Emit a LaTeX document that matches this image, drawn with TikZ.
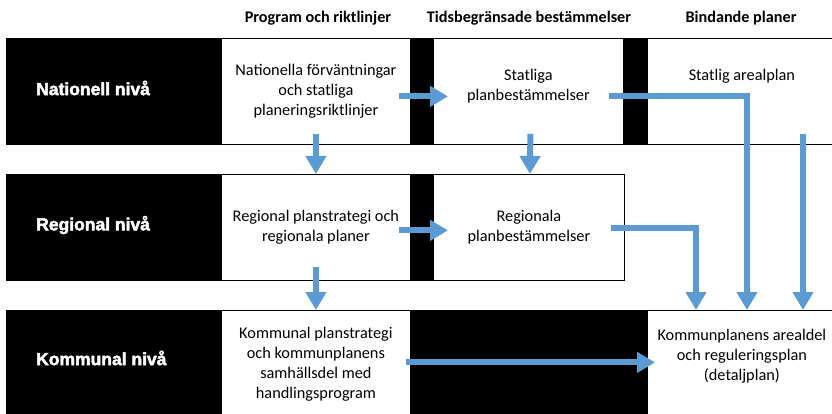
\documentclass[tikz,border=0pt]{standalone}
\usepackage{fontspec}
\setmainfont{Carlito}
\newfontfamily\levelfont[BoldFeatures={FakeBold=2.5}]{Liberation Sans}
\usetikzlibrary{arrows.meta}
\definecolor{planblue}{RGB}{91,155,213}
\begin{document}
\begin{tikzpicture}
[x=1pt,y=-1pt,
  banddecorate/.style={anchor=north west,shape=rectangle,inner sep=0pt,fill=black,draw=black,line width=0.8pt},%
  boxdecorate/.style={anchor=north west,shape=rectangle,inner sep=0pt,fill=white,draw=black,line width=0.8pt},%
  textdecorate/.style={align=center,inner sep=0pt,font=\fontsize{16.3}{20}\selectfont},%
  headdecorate/.style={inner sep=0pt,font=\bfseries\fontsize{16.2}{20}\selectfont},%
  leveldecorate/.style={anchor=west,inner sep=0pt,text=white,font=\levelfont\bfseries\fontsize{17.5}{20}\selectfont},%
  arrowdecorate/.style={-{Triangle[width=20pt,length=18pt]},line width=6pt,draw=planblue}]
\useasboundingbox (0,0) rectangle (832,414);
% column heads
\node (h1) at (318,18) [headdecorate] {Program och riktlinjer};
\node (h2) at (529,18) [headdecorate] {Tidsbegränsade bestämmelser};
\node (h3) at (741,18) [headdecorate] {Bindande planer};
% bands
\node (natband) at (6,38) [banddecorate,minimum width=830pt,minimum height=106pt] {};
\node (regband) at (6,174) [banddecorate,minimum width=618pt,minimum height=106pt] {};
\node (komband) at (6,310) [banddecorate,minimum width=830pt,minimum height=108pt] {};
\node (natlvl) at (36,88) [leveldecorate] {Nationell nivå};
\node (reglvl) at (36,225) [leveldecorate] {Regional nivå};
\node (komlvl) at (36,358) [leveldecorate] {Kommunal nivå};
% boxes
\node (nat) at (221,38) [boxdecorate,minimum width=189pt,minimum height=106pt] {};
\node [textdecorate] at (nat.center) {Nationella förväntningar\\och statliga\\planeringsriktlinjer};
\node (sta) at (433,38) [boxdecorate,minimum width=190pt,minimum height=106pt] {};
\node [textdecorate] at ([yshift=5pt]sta.center) {Statliga\\planbestämmelser};
\node (are) at (647,38) [boxdecorate,minimum width=189pt,minimum height=106pt] {};
\node [textdecorate] at ([yshift=15pt]are.center) {Statlig arealplan};
\node (reg) at (221,174) [boxdecorate,minimum width=189pt,minimum height=106pt] {};
\node [textdecorate] at (reg.center) {Regional planstrategi och\\regionala planer};
\node (rpb) at (433,174) [boxdecorate,minimum width=191pt,minimum height=106pt] {};
\node [textdecorate] at (rpb.center) {Regionala\\planbestämmelser};
\node (kom) at (221,310) [boxdecorate,minimum width=189pt,minimum height=108pt] {};
\node [textdecorate] at (kom.center) {Kommunal planstrategi\\och kommunplanens\\samhällsdel med\\handlingsprogram};
\node (kpa) at (647,310) [boxdecorate,minimum width=189pt,minimum height=108pt] {};
\node [textdecorate] at ([yshift=8pt]kpa.center) {Kommunplanens arealdel\\och reguleringsplan\\(detaljplan)};
% arrows
\path
([xshift=-12pt,yshift=-5pt]nat.east) edge[arrowdecorate] ([xshift=15pt,yshift=-5pt]sta.west)
([yshift=11pt]nat.south) edge[arrowdecorate] (reg.north)
([xshift=2pt,yshift=11pt]sta.south) edge[arrowdecorate] ([xshift=1pt]rpb.north)
([xshift=-12pt,yshift=-3pt]reg.east) edge[arrowdecorate] ([xshift=15pt,yshift=-3pt]rpb.west)
([yshift=14pt]reg.south) edge[arrowdecorate] (kom.north)
([xshift=-15pt,yshift=-5pt]sta.east) edge[arrowdecorate,to path={-| (\tikztotarget)}] ([xshift=100pt]kpa.north west)
([xshift=156pt,yshift=11pt]are.south west) edge[arrowdecorate] ([xshift=156pt]kpa.north west)
([xshift=-14pt,yshift=-1pt]rpb.east) edge[arrowdecorate,to path={-| (\tikztotarget)}] ([xshift=49pt]kpa.north west)
([xshift=-5pt,yshift=2pt]kom.east) edge[arrowdecorate] ([xshift=8pt,yshift=2pt]kpa.west);
\end{tikzpicture}
\end{document}
